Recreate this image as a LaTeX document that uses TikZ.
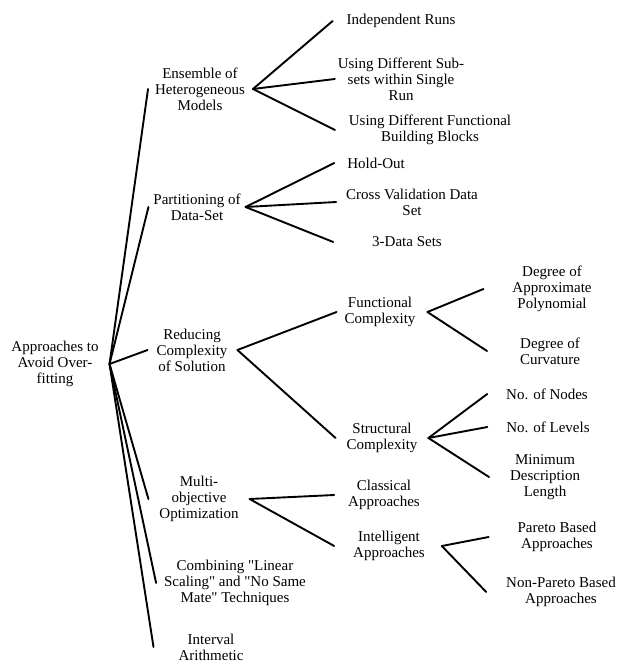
\documentclass[tikz,border=0pt]{standalone}
\usepackage{fontspec}
\setmainfont{Liberation Serif}[Ligatures=TeXOff]
\tikzset{
  lbl/.style={align=center, inner sep=0pt, outer sep=0pt, font=\fontsize{15}{16}\selectfont},
  branch/.style={line width=1.9pt, line cap=round},
}

\begin{document}
\begin{tikzpicture}[x=1pt,y=-1pt]
  \useasboundingbox (0,0) rectangle (619,663);
  % root and first level
  \node[lbl] (root) at (55,364) {Approaches to\\Avoid Over-\\fitting};
  \node[lbl] (ens) at (200,89) {Ensemble of\\Heterogeneous\\Models};
  \node[lbl] (part) at (197,207) {Partitioning of\\Data-Set};
  \node[lbl] (red) at (192,350) {Reducing\\Complexity\\of Solution};
  \node[lbl] (multi) at (199,499) {Multi-\\objective\\Optimization};
  \node[lbl] (comb) at (235,583) {Combining "Linear\\Scaling" and "No Same\\Mate" Techniques};
  \node[lbl] (ivl) at (211,647) {Interval\\Arithmetic};
  % second level
  \node[lbl] (ir) at (401,21) {Independent Runs};
  \node[lbl] (sub) at (401,79) {Using Different Sub-\\sets within Single\\Run};
  \node[lbl] (bb) at (430,130) {Using Different Functional\\Building Blocks};
  \node[lbl] (hold) at (376,163) {Hold-Out};
  \node[lbl] (cv) at (412,202) {Cross Validation Data\\Set};
  \node[lbl] (dsets) at (407,242) {3-Data Sets};
  \node[lbl] (func) at (380,312) {Functional\\Complexity};
  \node[lbl] (struct) at (382,438) {Structural\\Complexity};
  \node[lbl] (class) at (384,495) {Classical\\Approaches};
  \node[lbl] (intel) at (389,546) {Intelligent\\Approaches};
  % third level
  \node[lbl] (dap) at (552,289) {Degree of\\Approximate\\Polynomial};
  \node[lbl] (doc) at (550,351) {Degree of\\Curvature};
  \node[lbl] (nodes) at (547,394) {No. of Nodes};
  \node[lbl] (levels) at (548,427) {No. of Levels};
  \node[lbl] (mdl) at (545,477) {Minimum\\Description\\Length};
  \node[lbl] (pareto) at (557,537) {Pareto Based\\Approaches};
  \node[lbl] (nonp) at (561,592) {Non-Pareto Based\\Approaches};

  % branch points
  \coordinate (rootJ) at ([xshift=11pt]root.east);
  \coordinate (ensJ) at ([xshift=8pt]ens.east);
  \coordinate (partJ) at ([xshift=5pt]part.east);
  \coordinate (redJ) at ([xshift=10pt]red.east);
  \coordinate (funcJ) at ([xshift=12pt]func.east);
  \coordinate (structJ) at ([xshift=11pt]struct.east);
  \coordinate (multiJ) at ([xshift=11pt]multi.east);
  \coordinate (intelJ) at ([xshift=17pt]intel.east);

  % branches: child / gap before its text
  \foreach \c/\g in {ens/7,part/5,red/9,multi/11,comb/8,ivl/25}
    \draw[branch] (rootJ) -- ([xshift=-\g pt]\c.west);
  \foreach \c/\g in {ir/14,sub/3,bb/14}
    \draw[branch] (ensJ) -- ([xshift=-\g pt]\c.west);
  \foreach \c/\g in {hold/13,cv/10,dsets/39}
    \draw[branch] (partJ) -- ([xshift=-\g pt]\c.west);
  \foreach \c/\g in {func/8,struct/11}
    \draw[branch] (redJ) -- ([xshift=-\g pt]\c.west);
  \foreach \c/\g in {dap/29,doc/33}
    \draw[branch] (funcJ) -- ([xshift=-\g pt]\c.west);
  \foreach \c/\g in {nodes/19,levels/19,mdl/21}
    \draw[branch] (structJ) -- ([xshift=-\g pt]\c.west);
  \foreach \c/\g in {class/14,intel/19}
    \draw[branch] (multiJ) -- ([xshift=-\g pt]\c.west);
  \foreach \c/\g in {pareto/29,nonp/20}
    \draw[branch] (intelJ) -- ([xshift=-\g pt]\c.west);
\end{tikzpicture}
\end{document}
